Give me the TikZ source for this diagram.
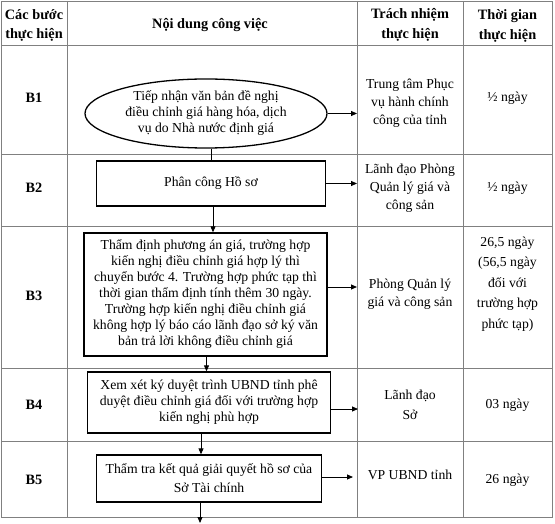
\documentclass[tikz,border=0pt]{standalone}
\usepackage{fontspec}
\setmainfont{Liberation Serif}
\usetikzlibrary{shapes.geometric,arrows.meta}
\begin{document}
\begin{tikzpicture}[x=1pt,y=-1pt,
  grid/.style={draw=black!50, line width=0.8pt},
  txt/.style={font=\fontsize{13.7}{18}\selectfont, align=center, inner sep=0pt},
  hdr/.style={font=\bfseries\fontsize{14.3}{19.5}\selectfont, align=center, inner sep=0pt},
  boxtext/.style={draw, line width=1.3pt, align=center, inner sep=0pt, font=\fontsize{13.7}{16}\selectfont},
  flow/.style={line width=0.8pt, -{Triangle[length=6pt,width=5pt]}},
  plainflow/.style={line width=0.8pt}]
\useasboundingbox[fill=white] (0,0) rectangle (555,524);
% table grid
\draw[grid] (1,1) rectangle (552,517);
\foreach \xx in {67,357,463} \draw[grid] (\xx,1) -- (\xx,517);
\foreach \yy in {45,154,226,368,441} \draw[grid] (1,\yy) -- (552,\yy);
% header
\node[hdr] (h1) at (34,25.5) {Các bước\\thực hiện};
\node[hdr] (h2) at (210,25) {Nội dung công việc};
\node[hdr] (h3) at (410,25) {Trách nhiệm\\thực hiện};
\node[hdr] (h4) at (507.5,26) {Thời gian\\thực hiện};
% step labels
\node[hdr] (s1) at (34,98) {B1};
\node[hdr] (s2) at (34,188) {B2};
\node[hdr] (s3) at (34,296) {B3};
\node[hdr] (s4) at (34,405) {B4};
\node[hdr] (s5) at (34,480) {B5};
% flow shapes
\node[boxtext, ellipse, minimum width=242pt, minimum height=69pt] (e1) at (206,113.5)
  {Tiếp nhận văn bản đề nghị\\điều chỉnh giá hàng hóa, dịch\\vụ do Nhà nước định giá};
\node[boxtext, minimum width=229.5pt, minimum height=45pt] (b2) at (211,183.5) {Phân công Hồ sơ};
\node[boxtext, minimum width=243pt, minimum height=123pt] (b3) at (205.5,294.5)
  {Thẩm định phương án giá, trường hợp\\kiến nghị điều chỉnh giá hợp lý thì\\chuyển bước 4. Trường hợp phức tạp thì\\thời gian thẩm định tính thêm 30 ngày.\\Trường hợp kiến nghị điều chỉnh giá\\không hợp lý báo cáo lãnh đạo sở ký văn\\bản trả lời không điều chỉnh giá};
\node[boxtext, minimum width=243.5pt, minimum height=61pt] (b4) at (209,402.5)
  {Xem xét ký duyệt trình UBND tỉnh phê\\duyệt điều chỉnh giá đối với trường hợp\\kiến nghị phù hợp};
\node[boxtext, font=\fontsize{13.7}{19}\selectfont, minimum width=224.5pt, minimum height=47pt] (b5) at (209,478.5)
  {Thẩm tra kết quả giải quyết hồ sơ của\\Sở Tài chính};
% responsibility column
\node[txt] (r1) at (410,103) {Trung tâm Phục\\vụ hành chính\\công của tỉnh};
\node[txt] (r2) at (410,188) {Lãnh đạo Phòng\\Quản lý giá và\\công sản};
\node[txt] (r3) at (410,294) {Phòng Quản lý\\giá và công sản};
\node[txt, font=\fontsize{13.7}{20}\selectfont] (r4) at (410,405) {Lãnh đạo\\Sở};
\node[txt] (r5) at (410,475) {VP UBND tỉnh};
% time column
\node[txt] (t1) at (507.5,98) {½ ngày};
\node[txt] (t2) at (507.5,188) {½ ngày};
\node[txt, font=\fontsize{13.7}{20.5}\selectfont] (t3) at (507.5,284) {26,5 ngày\\(56,5 ngày\\đối với\\trường hợp\\phức tạp)};
\node[txt] (t4) at (507.5,405) {03 ngày};
\node[txt] (t5) at (507.5,480) {26 ngày};
% arrow targets at the column line
\coordinate (a1) at (357,113.5);
\coordinate (a2) at (357,183.5);
\coordinate (a3) at (357,287);
\coordinate (a4) at (358,409);
\coordinate (a5) at (353,477);
\coordinate (fin) at (200,523);
% right arrows
\draw[flow] (e1.east) -- (a1);
\draw[flow] (b2.east) -- (a2);
\draw[flow] (b3.east |- a3) -- (a3);
\draw[flow] (b4.east |- a4) -- (a4);
\draw[flow] (b5.east |- a5) -- (a5);
% vertical connectors
\draw[plainflow] (b2.north |- e1.south) -- (b2.north);
\draw[flow] ([xshift=2pt]b2.south) -- ([xshift=2pt]b2.south |- b3.north);
\draw[flow] ([xshift=1pt]b3.south) -- ([xshift=1pt]b3.south |- b4.north);
\draw[flow] ([xshift=-8pt]b4.south) -- ([xshift=-8pt]b4.south |- b5.north);
\draw[flow] (b5.south -| fin) -- (fin);
\end{tikzpicture}
\end{document}
